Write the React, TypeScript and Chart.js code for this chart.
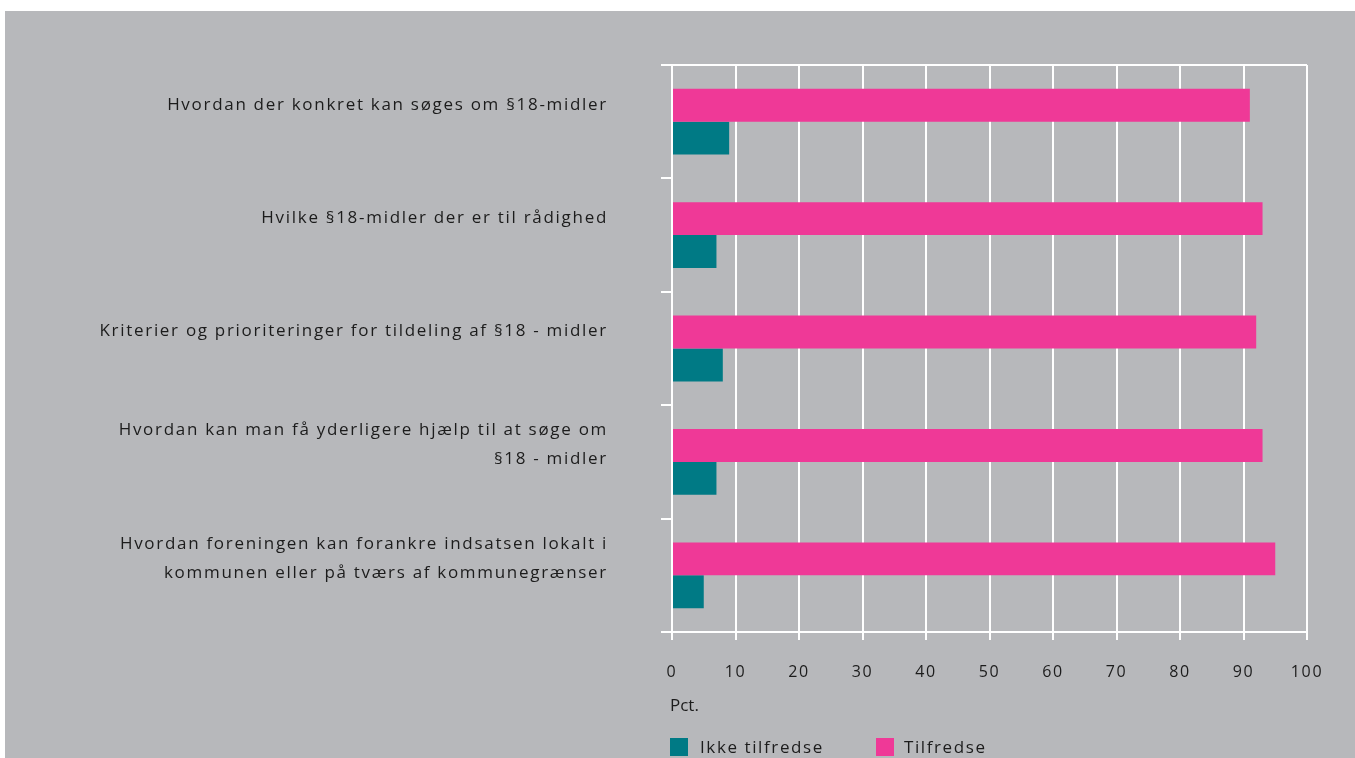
import { useEffect, useRef } from 'react';
import { Chart, registerables } from 'chart.js';

Chart.register(...registerables);

const categories: (string | string[])[] = [
  'Hvordan der konkret kan søges om §18-midler',
  'Hvilke §18-midler der er til rådighed',
  'Kriterier og prioriteringer for tildeling af §18 - midler',
  ['Hvordan kan man få yderligere hjælp til at søge om', '§18 - midler'],
  ['Hvordan foreningen kan forankre indsatsen lokalt i', 'kommunen eller på tværs af kommunegrænser'],
];
const tilfredse = [91, 93, 92, 93, 95];
const ikkeTilfredse = [9, 7, 8, 7, 5];
const seriesNames = ['Ikke tilfredse', 'Tilfredse'];
const axisTitle = 'Pct.';

const PINK = '#ef3997';
const TEAL = '#007a85';
const BG = '#b7b8bb';
const TEXT = '#1c1c1c';
const FONT = '"Open Sans", "DejaVu Sans", sans-serif';

export default function App() {
  const ref = useRef<HTMLCanvasElement>(null);

  useEffect(() => {
    if (!ref.current) return;
    const spacing = {
      id: 'spacing',
      beforeDraw(chart: any) {
        chart.ctx.letterSpacing = '1.7px';
      },
    };
    const chart = new Chart(ref.current, {
      type: 'bar',
      data: {
        labels: categories,
        datasets: [
          { label: seriesNames[1], data: tilfredse, backgroundColor: PINK, borderWidth: 0 },
          { label: seriesNames[0], data: ikkeTilfredse, backgroundColor: TEAL, borderWidth: 0 },
        ],
      },
      options: {
        indexAxis: 'y',
        animation: false,
        responsive: false,
        maintainAspectRatio: false,
        layout: { padding: { left: 0, right: 48, top: 54, bottom: 66 } },
        plugins: { legend: { display: false }, tooltip: { enabled: false } },
        datasets: { bar: { categoryPercentage: 0.58, barPercentage: 1 } },
        scales: {
          x: {
            min: 0,
            max: 100,
            ticks: { stepSize: 10, color: TEXT, padding: 23, font: { family: FONT, size: 16 } },
            grid: { color: '#ffffff', lineWidth: 2, tickLength: 8, tickColor: '#ffffff', tickWidth: 2 },
            border: { color: '#ffffff', width: 2 },
            afterFit(scale: any) {
              scale.height = 60;
              scale.paddingLeft = 0;
              scale.paddingRight = 0;
            },
          },
          y: {
            ticks: {
              color: TEXT,
              padding: 53,
              labelOffset: -17,
              font: { family: FONT, size: 17, lineHeight: 1.7 },
            },
            grid: {
              offset: true,
              lineWidth: 2,
              tickLength: 11,
              tickColor: '#ffffff',
              tickWidth: 2,
              color: (ctx: any) => (ctx.type === 'scale' || ctx.index === 0 ? '#ffffff' : 'rgba(0,0,0,0)'),
            },
            border: { color: '#ffffff', width: 2 },
            afterFit(scale: any) {
              scale.width = 667;
              scale.paddingTop = 0;
              scale.paddingBottom = 0;
            },
          },
        },
      },
      plugins: [spacing],
    });
    return () => chart.destroy();
  }, []);

  const textStyle: any = {
    position: 'absolute',
    fontFamily: FONT,
    fontSize: 17,
    color: TEXT,
    letterSpacing: '1.6px',
    whiteSpace: 'nowrap',
    lineHeight: '20px',
  };

  return (
    <div style={{ position: 'absolute', left: 0, top: 0, width: 1355, height: 758, background: '#ffffff', overflow: 'hidden' }}>
      <div style={{ position: 'absolute', left: 5, top: 11, width: 1350, height: 747, background: BG, overflow: 'hidden' }}>
        <canvas ref={ref} width={1350} height={747} style={{ position: 'absolute', left: 0, top: 0 }} />
        <div style={{ ...textStyle, left: 665, top: 684, letterSpacing: '0px' }}>{axisTitle}</div>
        <div style={{ position: 'absolute', left: 665, top: 727, width: 18, height: 18, background: TEAL }} />
        <div style={{ ...textStyle, left: 695, top: 726 }}>{seriesNames[0]}</div>
        <div style={{ position: 'absolute', left: 871, top: 727, width: 18, height: 18, background: PINK }} />
        <div style={{ ...textStyle, left: 899, top: 726 }}>{seriesNames[1]}</div>
      </div>
    </div>
  );
}
